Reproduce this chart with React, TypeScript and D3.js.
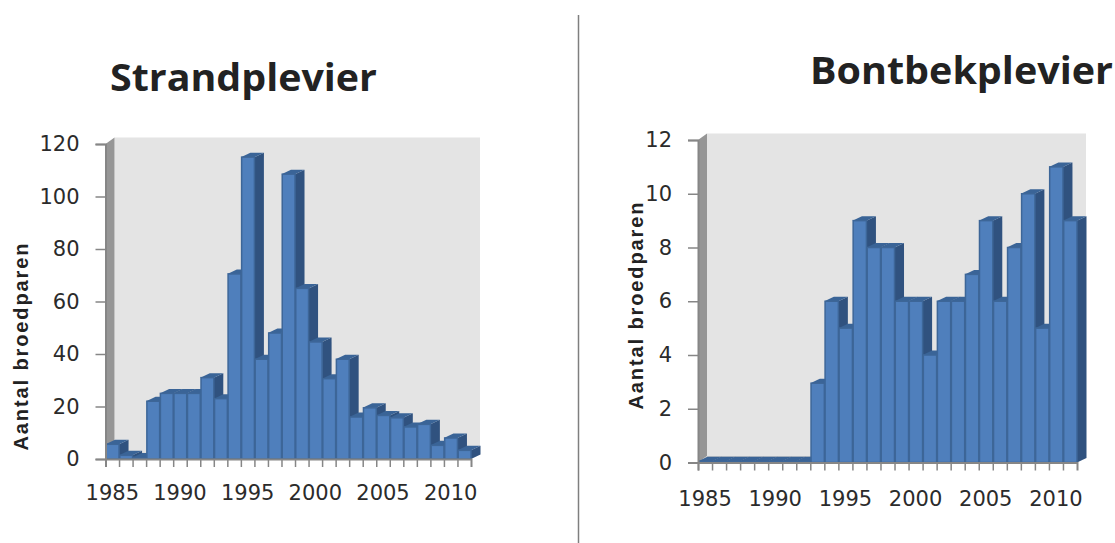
import React, { useRef, useEffect } from 'react';
import * as d3 from 'd3';

const years = d3.range(1985, 2012).map(String);
const strandValues = [5.6, 1.4, 0.6, 22, 25, 25, 25, 31, 23, 70.5, 115, 38, 48, 108.5, 65, 44.6, 30.6, 38, 16, 19.5, 16.6, 15.7, 12.2, 13.2, 5.2, 8, 3.3];
const bontbekValues = [0.05, 0.05, 0.05, 0.05, 0.05, 0.05, 0.05, 0.05, 2.95, 6, 5, 9, 8, 8, 6, 6, 4, 6, 6, 7, 9, 6, 8, 10, 5, 11, 9];
const strandTicks = [0, 20, 40, 60, 80, 100, 120];
const bontbekTicks = [0, 2, 4, 6, 8, 10, 12];
const yearLabels = ['1985', '1990', '1995', '2000', '2005', '2010'];

const FONT = '"DejaVu Sans", sans-serif';

interface PanelProps {
  title: string;
  titleX: number;
  titleY: number;
  titleWidth: number;
  values: number[];
  ticks: number[];
  left: number;
  right: number;
  top: number;
  bottom: number;
  yTitleX: number;
  yTitleMid: number;
  labelY: number;
}

const Panel: React.FC<PanelProps> = ({ title, titleX, titleY, titleWidth, values, ticks, left, right, top, bottom, yTitleX, yTitleMid, labelY }) => {
  const gRef = useRef<SVGGElement>(null);

  useEffect(() => {
    if (!gRef.current) return;
    const g = d3.select(gRef.current);
    g.selectAll('*').remove();

    const wallDx = 9;
    const wallDy = 6.5;
    const barDx = 9.5;
    const barDy = 4.5;

    const xBand = d3.scaleBand<string>().domain(years).range([left, right]);
    const xEdge = d3.scaleLinear().domain([1985, 2012]).range([left, right]);
    const y = d3.scaleLinear().domain([0, d3.max(ticks) as number]).range([bottom, top]);

    // Walls
    g.append('rect')
      .attr('x', left + wallDx).attr('y', top - wallDy)
      .attr('width', right - left).attr('height', bottom - top)
      .attr('fill', '#e4e4e4');
    g.append('polygon')
      .attr('points', `${left},${top} ${left + wallDx},${top - wallDy} ${left + wallDx},${bottom - wallDy} ${left},${bottom}`)
      .attr('fill', '#969696');
    g.append('polygon')
      .attr('points', `${left},${bottom} ${left + wallDx},${bottom - wallDy} ${right + wallDx},${bottom - wallDy} ${right},${bottom}`)
      .attr('fill', '#c9c9c9');

    // Bars, left to right so each front covers the previous side
    values.forEach((v, i) => {
      const x0 = xBand(years[i]) as number;
      const x1 = x0 + xBand.bandwidth();
      const yTop = y(v);
      g.append('polygon')
        .attr('points', `${x1},${yTop} ${x1 + barDx},${yTop - barDy} ${x1 + barDx},${bottom - barDy} ${x1},${bottom}`)
        .attr('fill', '#30527f');
      g.append('polygon')
        .attr('points', `${x0},${yTop} ${x0 + barDx},${yTop - barDy} ${x1 + barDx},${yTop - barDy} ${x1},${yTop}`)
        .attr('fill', '#3a6497');
      g.append('rect')
        .attr('x', x0 + 0.75).attr('y', yTop)
        .attr('width', xBand.bandwidth() - 0.75).attr('height', bottom - yTop)
        .attr('fill', '#4f7fbc')
        .attr('stroke', '#3d6698')
        .attr('stroke-width', 1.5);
    });

    // Axes
    const yAxis = g.append('g')
      .attr('transform', `translate(${left},0)`)
      .call(d3.axisLeft(y).tickValues(ticks).tickSize(10).tickPadding(16));
    const xTicks = g.append('g')
      .attr('transform', `translate(0,${bottom})`)
      .call(d3.axisBottom(xEdge).tickValues(d3.range(1985, 2012)).tickSize(8).tickFormat(() => ''));
    const xLabels = g.append('g')
      .attr('transform', `translate(0,${labelY})`)
      .call(d3.axisBottom(xBand).tickValues(yearLabels).tickSize(0).tickPadding(0));
    xLabels.select('.domain').remove();

    [yAxis, xTicks].forEach(axis => {
      axis.select('.domain').attr('stroke', '#868686').attr('stroke-width', 2);
      axis.selectAll('.tick line').attr('stroke', '#868686').attr('stroke-width', 1.5);
    });
    [yAxis, xLabels].forEach(axis => {
      axis.attr('font-family', FONT).attr('font-size', 21);
      axis.selectAll('.tick text').attr('fill', '#2b2b2b');
    });
  }, [values, ticks, left, right, top, bottom, labelY]);

  return (
    <g>
      <text x={titleX} y={titleY} fontFamily='"Open Sans", sans-serif' fontWeight={700} fontSize={38} textLength={titleWidth} lengthAdjust="spacingAndGlyphs" fill="#222">
        {title}
      </text>
      <g ref={gRef} />
      <text
        transform={`translate(${yTitleX},${yTitleMid}) rotate(-90)`}
        textAnchor="middle"
        fontFamily='"Liberation Sans", sans-serif'
        fontWeight={700}
        fontSize={20}
        textLength={207}
        lengthAdjust="spacing"
        fill="#222"
      >
        Aantal broedparen
      </text>
    </g>
  );
};

export default function App() {
  return (
    <div style={{ position: 'absolute', left: 0, top: 0 }}>
      <svg width={1115} height={543} style={{ display: 'block', background: '#fff' }}>
        <line x1={578.5} x2={578.5} y1={15} y2={543} stroke="#7f7f7f" strokeWidth={1.5} />
        <Panel
          title="Strandplevier"
          titleX={110}
          titleY={91}
          titleWidth={267}
          values={strandValues}
          ticks={strandTicks}
          left={105.5}
          right={471}
          top={144}
          bottom={459}
          yTitleX={28}
          yTitleMid={347}
          labelY={485}
        />
        <Panel
          title="Bontbekplevier"
          titleX={810}
          titleY={84}
          titleWidth={303}
          values={bontbekValues}
          ticks={bontbekTicks}
          left={698}
          right={1077}
          top={140}
          bottom={462.5}
          yTitleX={643}
          yTitleMid={306}
          labelY={491}
        />
      </svg>
    </div>
  );
}
